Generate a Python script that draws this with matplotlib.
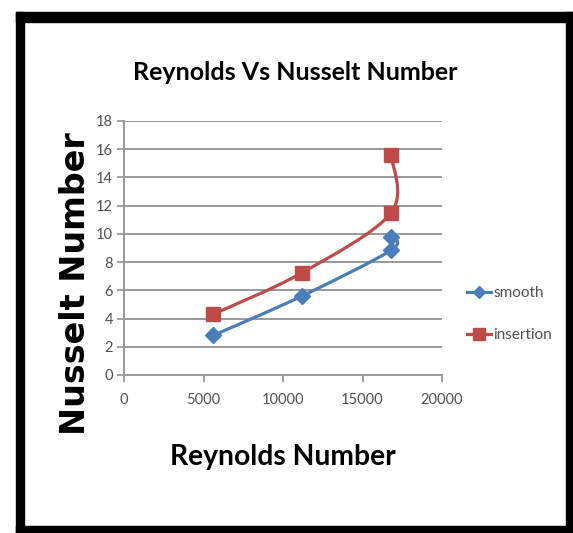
import numpy as np
import matplotlib
matplotlib.use('Agg')
import matplotlib.pyplot as plt
from matplotlib.path import Path
from matplotlib.patches import PathPatch, Rectangle
from matplotlib.lines import Line2D

# Datos
reynolds = [5600, 11200, 16800, 16800]
nusselt_smooth = [2.8, 5.6, 8.85, 9.8]
nusselt_insertion = [4.3, 7.25, 11.5, 15.6]
series_names = ['smooth', 'insertion']
x_ticks = [0, 5000, 10000, 15000, 20000]
y_ticks = [0, 2, 4, 6, 8, 10, 12, 14, 16, 18]

azul = '#4A7EBB'
rojo = '#BE4B48'
narrow = ['Lato', 'DejaVu Sans']


def camino_suave(xs, ys):
    # linea suavizada tipo Excel (Catmull-Rom como curvas de Bezier)
    p = np.column_stack([xs, ys]).astype(float)
    p_ext = np.vstack([p[0], p, p[-1]])
    verts = [p[0]]
    codes = [Path.MOVETO]
    for i in range(1, len(p_ext) - 2):
        p0, p1, p2, p3 = p_ext[i - 1], p_ext[i], p_ext[i + 1], p_ext[i + 2]
        verts += [p1 + (p2 - p0) / 6, p2 - (p3 - p1) / 6, p2]
        codes += [Path.CURVE4] * 3
    return Path(verts, codes)


fig = plt.figure(figsize=(5.73, 5.33), dpi=100)
W, H = 573, 533

# marco negro
for (x0, y0, w, h) in [(16, 12, 8, 521), (16, 12, 557, 10), (566, 12, 7, 521), (16, 526, 557, 7)]:
    fig.patches.append(Rectangle((x0 / W, 1 - (y0 + h) / H), w / W, h / H,
                                 transform=fig.transFigure, color='black', zorder=10))

ax = fig.add_axes([124 / W, 1 - 375 / H, 318 / W, 254 / H])

for ys, color, marker, ms in [(nusselt_smooth, azul, 'D', 8.5), (nusselt_insertion, rojo, 's', 9.5)]:
    ax.add_patch(PathPatch(camino_suave(reynolds, ys), facecolor='none', edgecolor=color,
                           linewidth=2.3, zorder=3))
    ax.plot(reynolds, ys, linestyle='none', marker=marker, markersize=ms, color=color, zorder=4)

ax.set_xlim(0, 20000)
ax.set_ylim(0, 18)
ax.set_xticks(x_ticks)
ax.set_yticks(y_ticks)
ax.grid(axis='y', color='#999999', linewidth=1.4)
ax.set_axisbelow(True)
for s in ['top', 'right']:
    ax.spines[s].set_visible(False)
for s in ['left', 'bottom']:
    ax.spines[s].set_color('#999999')
    ax.spines[s].set_linewidth(1.4)
ax.tick_params(axis='both', colors='#999999', length=5, width=1.3, labelcolor='#505050',
               labelsize=10.5)
for lab in ax.get_xticklabels() + ax.get_yticklabels():
    lab.set_family(narrow)
ax.tick_params(axis='x', pad=8)
ax.tick_params(axis='y', pad=3)

fig.text(295 / W, 1 - 72 / H, 'Reynolds Vs Nusselt Number', ha='center', va='center',
         fontsize=18, family=narrow, fontweight='bold')
fig.text(283 / W, 1 - 457 / H, 'Reynolds Number', ha='center', va='center',
         fontsize=20.3, family=narrow, fontweight='bold')
fig.text(76 / W, 1 - 284 / H, 'Nusselt Number', ha='center', va='center', rotation=90,
         fontsize=24, family='DejaVu Sans', fontweight='bold')

handles = [Line2D([], [], color=azul, marker='D', markersize=6, linewidth=2.3),
           Line2D([], [], color=rojo, marker='s', markersize=8, linewidth=2.3)]
leg = ax.legend(handles, series_names, loc='center left', bbox_to_anchor=(1.035, 0.24),
                frameon=False, handlelength=1.6, handletextpad=0.15, labelspacing=1.85,
                prop={'family': narrow, 'size': 11})
for t in leg.get_texts():
    t.set_color('#505050')

fig.savefig('out.png', dpi=100)
